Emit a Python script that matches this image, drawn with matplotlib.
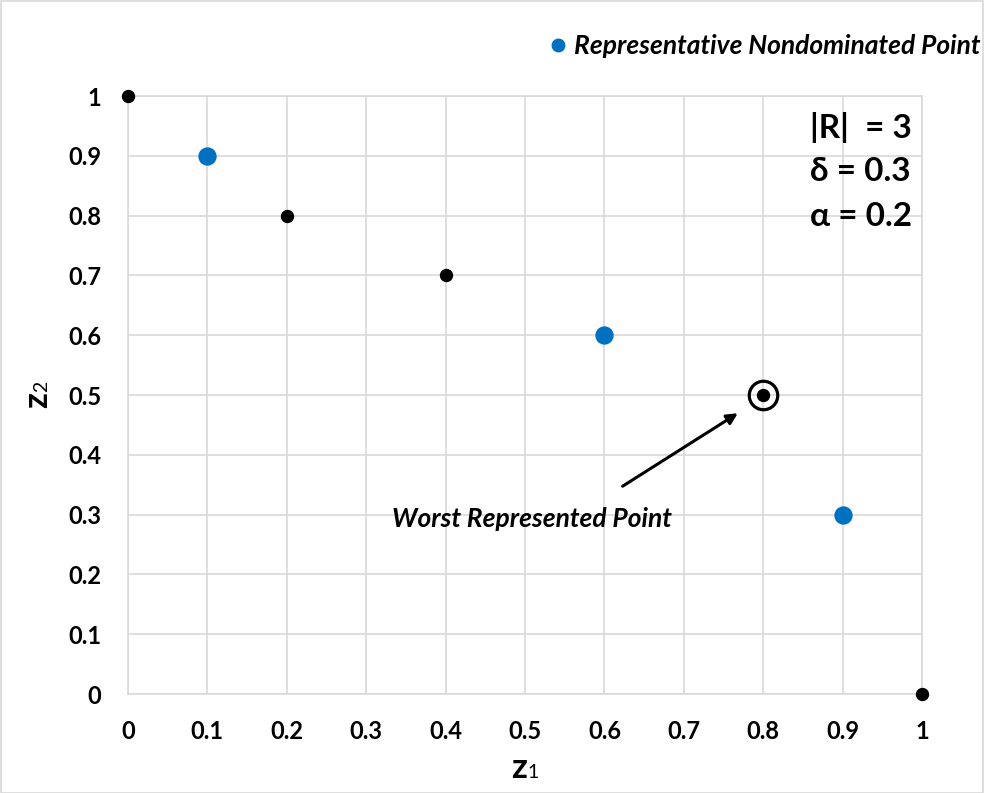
import matplotlib
matplotlib.use("Agg")
import matplotlib.pyplot as plt
from matplotlib.lines import Line2D
from matplotlib.patches import Rectangle

plt.rcParams['font.family'] = ['Lato', 'DejaVu Sans']

# nondominated points
z1_pts = [0.0, 0.2, 0.4, 0.8, 1.0]
z2_pts = [1.0, 0.8, 0.7, 0.5, 0.0]

# representative subset
rep_z1 = [0.1, 0.6, 0.9]
rep_z2 = [0.9, 0.6, 0.3]

worst_z1, worst_z2 = 0.8, 0.5
ticks = [0, 0.1, 0.2, 0.3, 0.4, 0.5, 0.6, 0.7, 0.8, 0.9, 1]
tick_labels = ['0', '0.1', '0.2', '0.3', '0.4', '0.5', '0.6', '0.7', '0.8', '0.9', '1']
stats = ['|R|  = 3', 'δ = 0.3', 'α = 0.2']

W, H = 984, 793
fig = plt.figure(figsize=(W / 100, H / 100), dpi=100)
ax = fig.add_axes([128 / W, 1 - 694 / H, (922 - 128) / W, (694 - 96) / H])

grid_c = '#d9d9d9'
blue = '#0070C0'

ax.set_xlim(0, 1)
ax.set_ylim(0, 1)
ax.set_xticks(ticks)
ax.set_yticks(ticks)
ax.set_xticklabels(tick_labels, fontsize=17, fontweight='bold')
ax.set_yticklabels(tick_labels, fontsize=17, fontweight='bold')
ax.tick_params(length=0)
ax.tick_params(axis='x', pad=19)
ax.tick_params(axis='y', pad=19)
ax.grid(True, color=grid_c, linewidth=1.2)
ax.set_axisbelow(True)
for s in ax.spines.values():
    s.set_color(grid_c)
    s.set_linewidth(1.2)

ax.plot(z1_pts, z2_pts, 'o', color='black', markersize=8.6, linestyle='none', clip_on=False, zorder=3)
ax.plot(rep_z1, rep_z2, 'o', color=blue, markersize=12.2, linestyle='none', clip_on=False, zorder=3)
ax.plot([worst_z1], [worst_z2], 'o', markerfacecolor='none', markeredgecolor='black',
        markersize=20.5, markeredgewidth=2.3, zorder=3)

ax.annotate('', xy=(0.771, 0.472), xytext=(0.62, 0.345),
            arrowprops=dict(arrowstyle='-|>', color='black', lw=2.2, mutation_scale=16))
ax.text(0.509, 0.293, 'Worst Represented Point', ha='center', va='center',
        fontsize=19, fontweight='bold', fontstyle='italic')

for i, s in enumerate(stats):
    ax.text(0.859, 0.948 - i * 0.075, s, ha='left', va='center', fontsize=24, fontweight='bold')

# axis labels: bold z with a smaller plain index
fig.text(527 / W, 1 - 778 / H, 'z', ha='right', va='baseline', fontsize=25, fontweight='bold')
fig.text(527 / W, 1 - 778 / H, '1', ha='left', va='baseline', fontsize=14)
fig.text(47 / W, 1 - 408 / H, 'z', ha='left', va='baseline', rotation=90, rotation_mode='anchor',
         fontsize=25, fontweight='bold')
fig.text(47 / W, 1 - 392 / H, '2', ha='left', va='baseline', rotation=90, rotation_mode='anchor',
         fontsize=14)

handle = Line2D([], [], marker='o', color=blue, linestyle='none', markersize=9)
leg = fig.legend([handle], ['Representative Nondominated Point'], loc='center right',
                 bbox_to_anchor=(980 / W, 1 - 46 / H), frameon=False, handletextpad=0.1,
                 handlelength=1.0, borderaxespad=0, borderpad=0,
                 prop=dict(family=['Lato', 'DejaVu Sans'], size=19, weight='bold', style='italic'))

fig.patches.append(Rectangle((0.5 / W, 0.5 / H), 1 - 1.5 / W, 1 - 1.5 / H, transform=fig.transFigure,
                             fill=False, edgecolor=grid_c, linewidth=1.2))

fig.savefig('out.png', dpi=100)
